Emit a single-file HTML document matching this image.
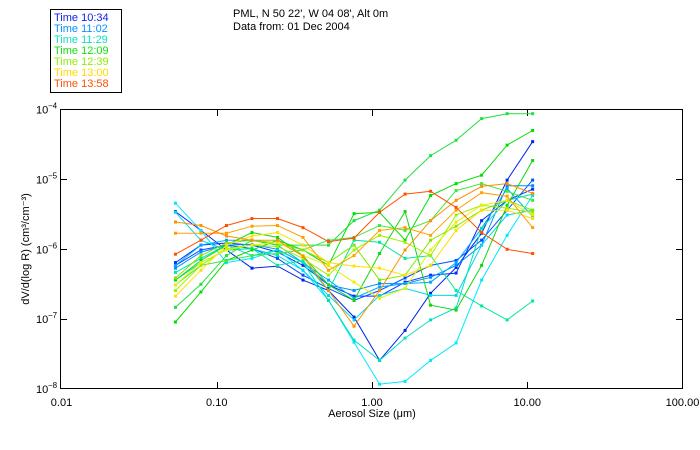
<!DOCTYPE html>
<html><head><meta charset="utf-8"><style>
html,body{margin:0;padding:0;background:#fff;}
svg{display:block;font-family:"Liberation Sans",sans-serif;}
</style></head><body>
<svg id="chart" width="700" height="450" viewBox="0 0 700 450" xmlns="http://www.w3.org/2000/svg">
<rect x="0" y="0" width="700" height="450" fill="#fff"/>
<g>
<rect x="50.5" y="9.5" width="71" height="83" fill="none" stroke="#000"/>
<text x="54" y="21" font-size="11" fill="#1020f0">Time 10:34</text>
<text x="54" y="32" font-size="11" fill="#0a90ff">Time 11:02</text>
<text x="54" y="43" font-size="11" fill="#10e0c0">Time 11:29</text>
<text x="54" y="54" font-size="11" fill="#10e010">Time 12:09</text>
<text x="54" y="65" font-size="11" fill="#90f000">Time 12:39</text>
<text x="54" y="76" font-size="11" fill="#ffd800">Time 13:00</text>
<text x="54" y="87" font-size="11" fill="#ff5000">Time 13:58</text>
</g>
<text x="233" y="17" font-size="11">PML, N 50 22', W 04 08', Alt 0m</text>
<text x="233" y="30" font-size="11">Data from: 01 Dec 2004</text>
<rect x="60.5" y="109.5" width="622" height="279" fill="none" stroke="#000"/>
<g id="axes"></g>
<g id="series"></g>
<text x="372" y="417" font-size="11" text-anchor="middle">Aerosol Size (μm)</text>
<text transform="translate(29,249) rotate(-90)" font-size="11" text-anchor="middle">dV/d(log R) (cm³/cm⁻³)</text>
</svg>
<script>
const sizes = [0.0542,0.0791,0.1155,0.1686,0.2462,0.3594,0.5248,0.7662,1.1186,1.633,2.384,3.481,5.082,7.42,10.83];
const xTickVals = [0.01,0.1,1,10,100];
const xTickLabels = ["0.01","0.10","1.00","10.00","100.00"];
const yTickExps = [-4,-5,-6,-7,-8];
const seriesColors = ["#0020f0","#0030ff","#0050ff","#0090ff","#00a8ff","#00e8ff","#00d8f0","#00e8a0","#00e0c0","#20e040","#00e000","#10d810","#40e840","#a0f000","#80e800","#ffe000","#e8f000","#ffa000","#ff9000","#ff5000"];
const logR = [-5.46,-5.73,-6.01,-6.27,-6.24,-6.44,-6.59,-6.97,-7.59,-7.16,-6.63,-6.26,-5.77,-5.01,-4.46];
const logS = [-6.19,-5.94,-5.91,-5.94,-6.04,-6.23,-6.51,-6.67,-6.67,-6.47,-6.37,-6.34,-5.59,-5.30,-5.14];
const logT = [-6.23,-6.01,-5.94,-5.99,-6.13,-6.37,-6.56,-6.73,-6.59,-6.41,-6.23,-6.16,-5.87,-5.44,-5.01];
const logP = [-6.27,-6.04,-5.94,-5.93,-6.00,-6.19,-6.51,-6.59,-6.49,-6.49,-6.40,-6.23,-5.94,-5.09,-5.09];
const logQ = [-6.23,-5.94,-5.87,-5.87,-5.94,-6.19,-6.44,-6.70,-6.54,-6.49,-6.47,-6.19,-5.70,-5.13,-5.53];
const logN = [-5.34,-5.73,-6.19,-6.13,-6.01,-6.30,-6.73,-7.33,-7.93,-7.89,-7.59,-7.34,-6.44,-5.80,-5.23];
const logO = [-5.47,-5.87,-6.01,-5.99,-6.09,-6.30,-6.66,-7.01,-6.66,-6.56,-6.66,-6.66,-5.94,-5.51,-5.44];
const logL = [-6.44,-6.19,-6.01,-5.99,-6.23,-6.16,-6.59,-5.87,-5.90,-6.13,-6.09,-6.59,-6.81,-7.01,-6.74];
const logM = [-6.33,-6.13,-5.94,-6.09,-6.01,-6.19,-6.73,-7.30,-7.59,-7.27,-7.01,-6.84,-5.70,-5.30,-5.21];
const logH = [-6.83,-6.50,-6.09,-5.87,-5.94,-5.94,-5.94,-5.59,-5.44,-5.01,-4.66,-4.44,-4.13,-4.06,-4.06];
const logI = [-7.04,-6.61,-6.16,-6.01,-5.87,-6.01,-6.23,-5.49,-5.47,-5.87,-5.23,-5.06,-4.94,-4.51,-4.30];
const logJ = [-6.44,-6.16,-5.94,-5.76,-5.83,-6.09,-6.51,-6.73,-6.06,-5.46,-6.80,-6.87,-6.23,-5.37,-4.73];
const logK = [-6.51,-6.23,-6.16,-6.09,-6.06,-6.01,-5.87,-5.83,-5.66,-5.73,-5.59,-5.16,-5.06,-5.17,-5.30];
const logF = [-6.59,-6.23,-5.99,-5.94,-5.96,-6.13,-6.37,-6.01,-5.80,-5.90,-6.09,-5.51,-5.37,-5.41,-5.47];
const logG = [-6.41,-6.09,-5.91,-5.87,-5.91,-6.01,-6.19,-5.94,-6.44,-6.37,-5.87,-5.67,-5.44,-5.30,-5.44];
const logD = [-6.67,-6.30,-5.94,-5.81,-5.76,-5.94,-6.19,-6.24,-6.27,-6.37,-6.23,-5.73,-5.44,-5.44,-5.56];
const logE = [-6.51,-6.19,-6.01,-5.94,-5.90,-6.09,-6.23,-6.47,-6.70,-6.56,-6.01,-5.61,-5.37,-5.30,-5.51];
const logB = [-5.77,-5.77,-5.77,-5.67,-5.66,-5.83,-6.30,-6.09,-5.73,-5.69,-5.80,-5.44,-5.19,-5.24,-5.69];
const logC = [-5.61,-5.66,-5.81,-5.87,-5.87,-6.10,-6.59,-7.10,-6.59,-6.01,-5.59,-5.30,-5.10,-5.06,-5.20];
const logA = [-6.07,-5.87,-5.66,-5.56,-5.56,-5.69,-5.89,-5.84,-5.47,-5.21,-5.17,-5.40,-5.76,-6.00,-6.06];
const allSeries = [logR,logS,logT,logP,logQ,logN,logO,logL,logM,logH,logI,logJ,logK,logF,logG,logD,logE,logB,logC,logA];

const NS = "http://www.w3.org/2000/svg";
function xScale(v){ return 61.5 + (Math.log10(v) + 2) * 155.25; }
function yScale(e){ return 109.5 + (-4 - e) * 69.9; }
function mk(tag, attrs, parent){ const el = document.createElementNS(NS, tag); for (const k in attrs) el.setAttribute(k, attrs[k]); parent.appendChild(el); return el; }

const axes = document.getElementById('axes');
xTickVals.forEach((v,i)=>{
  const x = Math.round(xScale(v)) + 0.5;
  if (i > 0 && i < xTickVals.length - 1) {
    const t1 = mk('line', {x1:x, x2:x, y1:388, y2:382, stroke:'#000'}, axes);
    
    
    const t2 = mk('line', {x1:x, x2:x, y1:110, y2:116, stroke:'#000'}, axes);
    
    
  }
  const lb = mk('text', {x: xScale(v), y: 406, 'font-size': 11, 'text-anchor': 'middle'}, axes);
  lb.textContent = xTickLabels[i];
  
  
});
yTickExps.forEach((e,i)=>{
  const y = Math.round(yScale(e)) + 0.5;
  if (i > 0 && i < yTickExps.length - 1) {
    const t1 = mk('line', {x1:61, x2:67, y1:y, y2:y, stroke:'#000'}, axes);
    
    
    const t2 = mk('line', {x1:682, x2:676, y1:y, y2:y, stroke:'#000'}, axes);
    
    
  }
  const lb = mk('text', {x: 36, y: yScale(e) + 4, 'font-size': 11}, axes);
  lb.textContent = '10';
  
  
  const sup = mk('text', {x: 48, y: yScale(e) - 1, 'font-size': 8}, axes);
  sup.textContent = '−' + Math.abs(e);
  
  
});

const sg = document.getElementById('series');
allSeries.forEach((vals, si)=>{
  const col = seriesColors[si];
  const g = mk('g', {}, sg);
  
  
  const pts = vals.map((e,i)=> xScale(sizes[i]).toFixed(1) + ',' + yScale(e).toFixed(1)).join(' ');
  const pl = mk('polyline', {points: pts, fill: 'none', stroke: col, 'stroke-width': 1}, g);
  
  
  vals.forEach((e,i)=>{
    const r = mk('rect', {x: xScale(sizes[i]) - 1.5, y: yScale(e) - 1.5, width: 3, height: 3, fill: col}, g);
    
    
  });
});
</script>
</body></html>
